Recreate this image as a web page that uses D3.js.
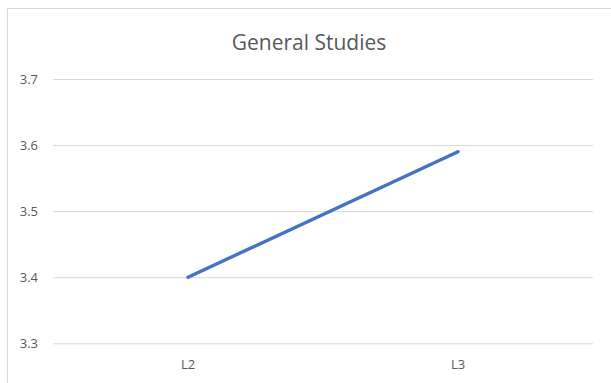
<!DOCTYPE html>
<html>
<head>
<meta charset="utf-8">
<script src="https://cdn.jsdelivr.net/npm/d3@7"></script>
<style>
  html, body { margin: 0; padding: 0; background: #fff; }
  svg { display: block; font-family: "Open Sans", "Noto Sans", sans-serif; }
</style>
</head>
<body>
<svg id="chart" width="611" height="383"></svg>
<script>
// Average score by level
const categories = ["L2", "L3"];
const values = [3.4, 3.59];
const yTicks = [3.3, 3.4, 3.5, 3.6, 3.7];
const title = "General Studies";

const FONT = "'Open Sans', 'Noto Sans', sans-serif";
const svg = d3.select("#chart");
const W = 611, H = 383;
const plot = { left: 53, right: 593, top: 79, bottom: 343.3 };

// chart frame (top and left edges visible)
svg.append("path")
  .attr("d", `M7.5,${H} V8.5 H${W}`)
  .attr("fill", "none")
  .attr("stroke", "#d9d9d9")
  .attr("stroke-width", 1);

const x = d3.scaleBand().domain(categories).range([plot.left, plot.right]);
const y = d3.scaleLinear().domain([3.3, 3.7]).range([plot.bottom, plot.top]);

// title
svg.append("text")
  .attr("x", 309)
  .attr("y", 50)
  .attr("text-anchor", "middle")
  .attr("font-size", 21)
  .attr("font-family", FONT)
  .attr("fill", "#595959")
  .text(title);

// horizontal gridlines + y labels
const yAxis = d3.axisLeft(y)
  .tickValues(yTicks)
  .tickSize(-(plot.right - plot.left))
  .tickPadding(15)
  .tickFormat(d3.format(".1f"));

const gy = svg.append("g")
  .attr("transform", `translate(${plot.left},0)`)
  .call(yAxis);
gy.select(".domain").remove();
gy.selectAll(".tick line").attr("stroke", "#d9d9d9").attr("stroke-width", 1);
gy.selectAll(".tick text")
  .attr("fill", "#595959")
  .attr("font-size", 13)
  .attr("font-family", FONT);

// category labels
const xAxis = d3.axisBottom(x).tickSize(0).tickPadding(16);
const gx = svg.append("g")
  .attr("transform", `translate(0,${plot.bottom})`)
  .call(xAxis);
gx.select(".domain").remove();
gx.selectAll(".tick text")
  .attr("fill", "#595959")
  .attr("font-size", 13)
  .attr("font-family", FONT);

// series line
const line = d3.line()
  .x((d, i) => x(categories[i]) + x.bandwidth() / 2)
  .y(d => y(d));

svg.append("path")
  .datum(values)
  .attr("d", line)
  .attr("fill", "none")
  .attr("stroke", "#4472c4")
  .attr("stroke-width", 3.4)
  .attr("stroke-linecap", "round")
  .attr("stroke-linejoin", "round");
</script>
</body>
</html>
